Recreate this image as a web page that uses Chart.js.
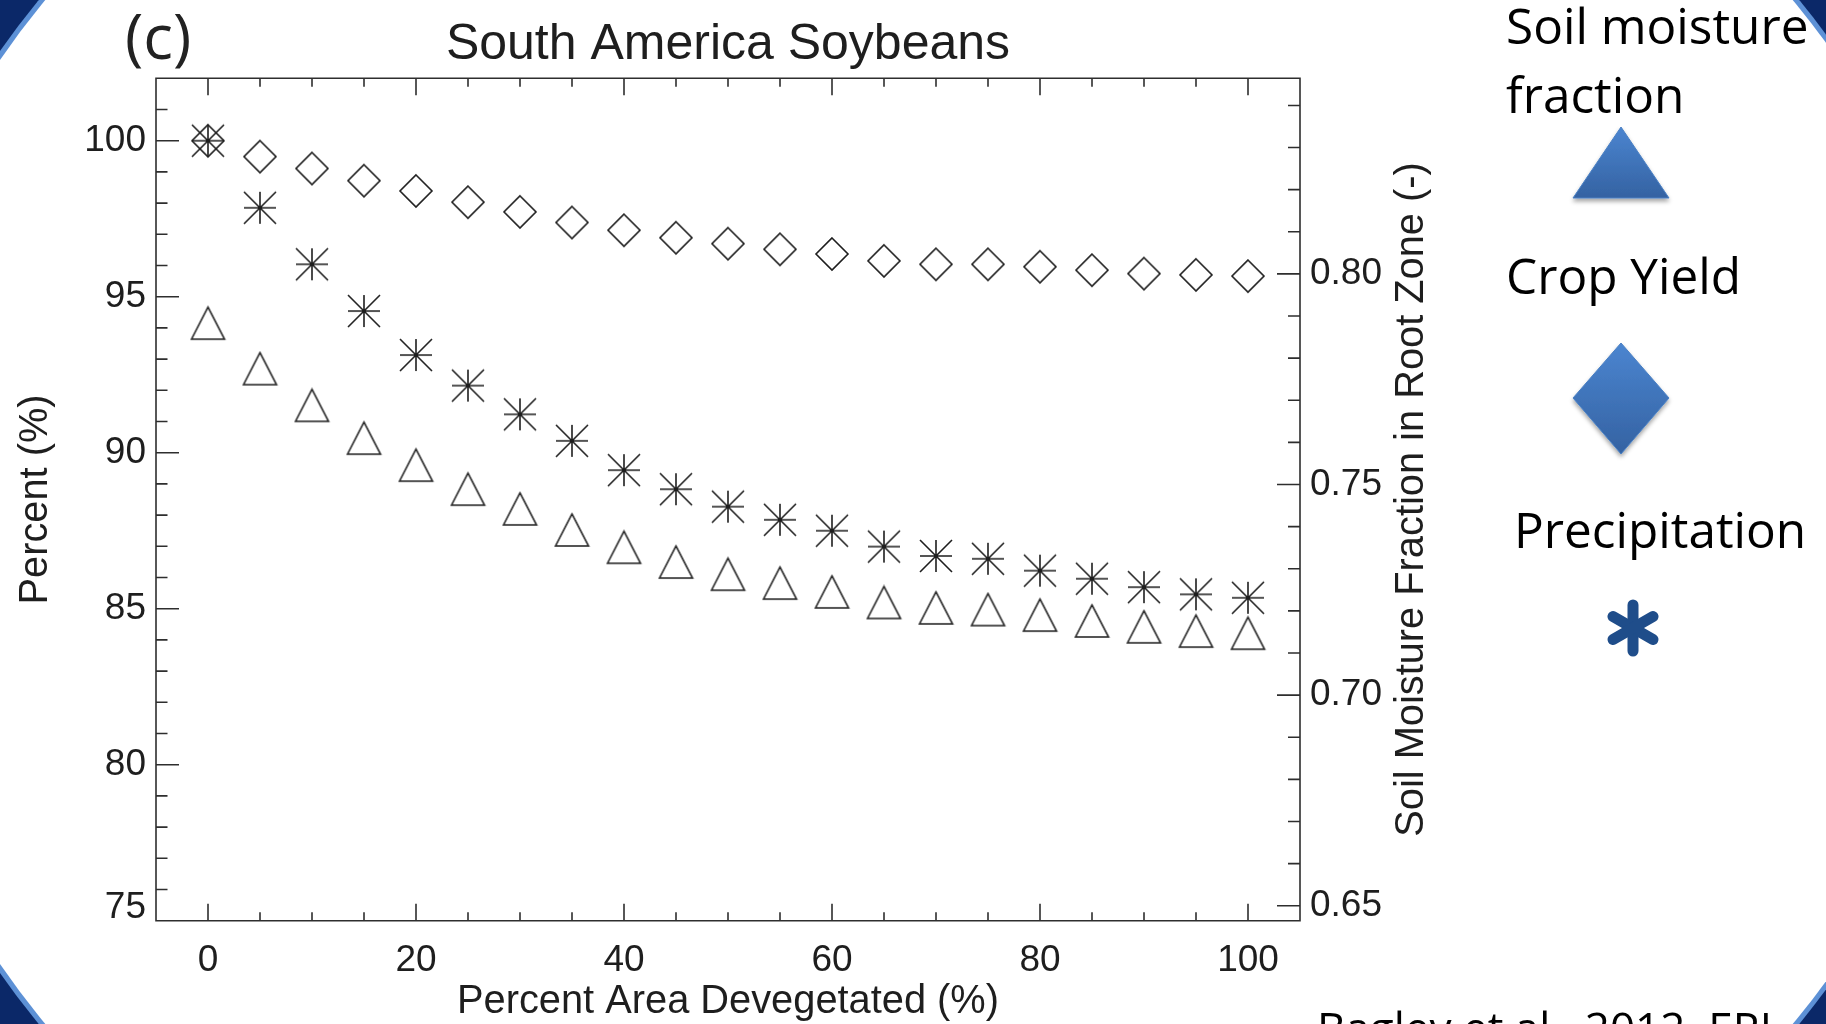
<!DOCTYPE html>
<html>
<head>
<meta charset="utf-8">
<title>South America Soybeans</title>
<script src="https://cdn.jsdelivr.net/npm/chart.js@4.4.1/dist/chart.umd.min.js"></script>
<style>
  html, body { margin: 0; padding: 0; }
  body {
    width: 1826px; height: 1024px; overflow: hidden; position: relative;
    background: #0b2868; font-family: 'Open Sans', sans-serif;
  }
  #slide {
    position: absolute; left: -140px; top: -288px; width: 2118px; height: 1600px;
    border-radius: 800px; background: #fff; box-shadow: 0 0 0 5px #5d91d6;
  }
  #chart-wrap { position: absolute; left: 0; top: 0; width: 1456px; height: 1024px; }
  .slide-text {
    position: absolute; white-space: nowrap; font-family: 'Open Sans', sans-serif;
    font-size: 49.5px; line-height: 49.5px; color: #000;
  }
  #panel-tag { left: 125px; top: 4px; font-size: 62px; line-height: 62px; font-weight: 500; color: #222; }
  #citation { left: 1317px; top: 1005px; font-size: 44px; line-height: 44px; }
  .legend-mark { position: absolute; overflow: visible; }
</style>
</head>
<body>
<div id="slide"></div>
<div class="slide-text" id="panel-tag">(c)</div>

<div id="chart-wrap"><canvas id="soy" width="1456" height="1024"></canvas></div>

<div class="slide-text" style="left:1506px; top:1px;">Soil moisture</div>
<div class="slide-text" style="left:1506px; top:70px;">fraction</div>
<svg class="legend-mark" style="left:1560px; top:115px;" width="125" height="100">
  <defs>
    <linearGradient id="shapeFill" x1="0" y1="0" x2="0" y2="1">
      <stop offset="0" stop-color="#4b85d0"/>
      <stop offset="1" stop-color="#3462a2"/>
    </linearGradient>
    <filter id="shade" x="-20%" y="-20%" width="140%" height="150%">
      <feDropShadow dx="0" dy="3" stdDeviation="2" flood-color="#000" flood-opacity="0.35"/>
    </filter>
  </defs>
  <polygon points="13,83 61,12 109,83" fill="url(#shapeFill)" stroke="#4a80c4" stroke-width="1" filter="url(#shade)"/>
</svg>

<div class="slide-text" style="left:1506px; top:251px;">Crop Yield</div>
<svg class="legend-mark" style="left:1560px; top:335px;" width="125" height="130">
  <defs>
    <linearGradient id="shapeFill2" x1="0" y1="0" x2="0" y2="1">
      <stop offset="0" stop-color="#4b85d0"/>
      <stop offset="1" stop-color="#3462a2"/>
    </linearGradient>
    <filter id="shade2" x="-20%" y="-20%" width="140%" height="150%">
      <feDropShadow dx="0" dy="3" stdDeviation="2" flood-color="#000" flood-opacity="0.35"/>
    </filter>
  </defs>
  <polygon points="61,8 109,63 61,119 13,63" fill="url(#shapeFill2)" stroke="#4a80c4" stroke-width="1" filter="url(#shade2)"/>
</svg>

<div class="slide-text" style="left:1514px; top:505px;">Precipitation</div>
<svg class="legend-mark" style="left:1603px; top:598px;" width="60" height="60">
  <g stroke="#1f4d8a" stroke-width="11" stroke-linecap="round">
    <line x1="30" y1="7" x2="30" y2="53"/>
    <line x1="10" y1="18.5" x2="50" y2="41.5"/>
    <line x1="10" y1="41.5" x2="50" y2="18.5"/>
  </g>
</svg>

<div class="slide-text" id="citation">Bagley et al., 2012, ERL</div>

<script>
  // percent of area devegetated (x)
  const devegetated = [0, 5, 10, 15, 20, 25, 30, 35, 40, 45, 50, 55, 60, 65, 70, 75, 80, 85, 90, 95, 100];

  // crop yield, % (diamonds, left axis)
  const cropYield = [100.0, 99.49, 99.11, 98.72, 98.39, 98.03, 97.72, 97.38, 97.13, 96.89, 96.70,
    96.52, 96.37, 96.15, 96.04, 96.04, 95.96, 95.85, 95.74, 95.70, 95.66];

  // precipitation, % (asterisks, left axis)
  const precipitation = [100.0, 97.85, 96.04, 94.54, 93.13, 92.15, 91.23, 90.38, 89.44, 88.83, 88.27,
    87.85, 87.50, 86.99, 86.69, 86.60, 86.22, 85.96, 85.69, 85.46, 85.35];

  // soil moisture fraction in root zone (triangles, right axis)
  const soilMoisture = [0.7883, 0.7775, 0.7688, 0.7610, 0.7546, 0.7489, 0.7442, 0.7392, 0.7351, 0.7316, 0.7287,
    0.7266, 0.7245, 0.7220, 0.7207, 0.7203, 0.7190, 0.7176, 0.7162, 0.7152, 0.7147];

  const xTickLabels = [0, 20, 40, 60, 80, 100];
  const percentTickLabels = [75, 80, 85, 90, 95, 100];
  const moistureTickLabels = ['0.65', '0.70', '0.75', '0.80'];
  const moistureTitle = 'Soil Moisture Fraction in Root Zone (-)';

  const inkColor = '#1e1e1e';
  const axisColor = '#2e2e2e';
  const fontFamily = "'Liberation Sans', Arial, Helvetica, sans-serif";

  function makeMarker(kind, w, h) {
    const c = document.createElement('canvas');
    c.width = w + 4;
    c.height = h + 4;
    const g = c.getContext('2d');
    g.strokeStyle = inkColor;
    g.lineWidth = 1.6;
    g.translate(c.width / 2, c.height / 2);
    const hw = w / 2;
    const hh = h / 2;
    g.beginPath();
    if (kind === 'triangle') {
      g.moveTo(-hw, hh);
      g.lineTo(0, -hh);
      g.lineTo(hw, hh);
      g.closePath();
    } else if (kind === 'diamond') {
      g.moveTo(0, -hh);
      g.lineTo(hw, 0);
      g.lineTo(0, hh);
      g.lineTo(-hw, 0);
      g.closePath();
    } else {
      g.moveTo(-hw, 0); g.lineTo(hw, 0);
      g.moveTo(0, -hh); g.lineTo(0, hh);
      g.moveTo(-hw, -hh); g.lineTo(hw, hh);
      g.moveTo(-hw, hh); g.lineTo(hw, -hh);
    }
    g.stroke();
    return c;
  }

  const diamondMark = makeMarker('diamond', 32, 32);
  const starMark = makeMarker('star', 32, 32);
  const triangleMark = makeMarker('triangle', 33, 32);

  function points(ys) {
    return devegetated.map((x, i) => ({ x: x, y: ys[i] }));
  }

  // IDL-style frame: box plus inward ticks on every side
  const frameTicks = {
    id: 'frameTicks',
    beforeDatasetsDraw(chart) {
      const { ctx, chartArea, scales } = chart;
      const { left, right, top, bottom } = chartArea;
      ctx.save();
      ctx.strokeStyle = axisColor;
      ctx.lineWidth = 1.6;
      ctx.beginPath();
      scales.x.ticks.forEach((t) => {
        const px = scales.x.getPixelForValue(t.value);
        const len = xTickLabels.includes(t.value) ? 17 : 8.5;
        ctx.moveTo(px, bottom);
        ctx.lineTo(px, bottom - len);
        ctx.moveTo(px, top);
        ctx.lineTo(px, top + len);
      });
      scales.y.ticks.forEach((t) => {
        const py = scales.y.getPixelForValue(t.value);
        const len = percentTickLabels.includes(t.value) ? 23 : 11.5;
        ctx.moveTo(left, py);
        ctx.lineTo(left + len, py);
      });
      scales.y2.ticks.forEach((t) => {
        const py = scales.y2.getPixelForValue(t.value);
        const len = moistureTickLabels.includes(t.value.toFixed(2)) ? 23 : 12;
        ctx.moveTo(right, py);
        ctx.lineTo(right - len, py);
      });
      ctx.rect(left, top, right - left, bottom - top);
      ctx.stroke();
      ctx.restore();
    },
    // right axis title reads bottom-to-top like the left one
    afterDraw(chart) {
      const { ctx, chartArea, scales } = chart;
      const y2 = scales.y2;
      ctx.save();
      ctx.translate(y2.right - 43.5, (chartArea.top + chartArea.bottom) / 2);
      ctx.rotate(-Math.PI / 2);
      ctx.fillStyle = inkColor;
      ctx.font = `39.8px ${fontFamily}`;
      ctx.textAlign = 'center';
      ctx.textBaseline = 'middle';
      ctx.fillText(moistureTitle, 0, 0);
      ctx.restore();
    }
  };

  const tickFont = { family: fontFamily, size: 37, lineHeight: 1.2 };
  const titleFont = { family: fontFamily, size: 39.8, lineHeight: 1 };

  new Chart(document.getElementById('soy'), {
    type: 'scatter',
    data: {
      datasets: [
        {
          label: 'Crop Yield',
          data: points(cropYield),
          yAxisID: 'y',
          pointStyle: diamondMark,
          pointRadius: 16
        },
        {
          label: 'Precipitation',
          data: points(precipitation),
          yAxisID: 'y',
          pointStyle: starMark,
          pointRadius: 16
        },
        {
          label: 'Soil moisture fraction',
          data: points(soilMoisture),
          yAxisID: 'y2',
          pointStyle: triangleMark,
          pointRadius: 16
        }
      ]
    },
    options: {
      responsive: false,
      animation: false,
      layout: { padding: 0 },
      plugins: {
        legend: { display: false },
        tooltip: { enabled: false },
        title: {
          display: true,
          text: 'South America Soybeans',
          color: inkColor,
          font: { family: fontFamily, size: 50, weight: 'normal', lineHeight: 1 },
          padding: { top: 20.5, bottom: 7.8 }
        }
      },
      scales: {
        x: {
          type: 'linear',
          position: 'bottom',
          min: -5,
          max: 105,
          grid: { display: false, drawTicks: false },
          border: { display: false },
          afterBuildTicks: (scale) => {
            scale.ticks = devegetated.map((v) => ({ value: v }));
          },
          afterFit: (scale) => { scale.height = 103.3; },
          ticks: {
            autoSkip: false,
            maxRotation: 0,
            padding: 17.5,
            color: inkColor,
            font: tickFont,
            callback: (v) => (xTickLabels.includes(v) ? String(v) : '')
          },
          title: {
            display: true,
            text: 'Percent Area Devegetated (%)',
            color: inkColor,
            font: titleFont,
            padding: { top: 0, bottom: 2 }
          }
        },
        y: {
          type: 'linear',
          position: 'left',
          min: 75,
          max: 102,
          grid: { display: false, drawTicks: false },
          border: { display: false },
          afterBuildTicks: (scale) => {
            const list = [];
            for (let v = 75; v <= 101; v++) list.push({ value: v });
            scale.ticks = list;
          },
          afterFit: (scale) => { scale.width = 156; },
          ticks: {
            autoSkip: false,
            padding: 10,
            color: inkColor,
            font: (ctx) => ({
              family: fontFamily,
              size: 37,
              lineHeight: ctx.tick && ctx.tick.value === 75 ? 0.7135 : 1.2
            }),
            callback: (v) => {
              if (!percentTickLabels.includes(v)) return '';
              return v === 75 ? ['75', ''] : String(v);
            }
          },
          title: {
            display: true,
            text: 'Percent (%)',
            color: inkColor,
            font: titleFont,
            padding: { top: 15.75, bottom: 0 }
          }
        },
        y2: {
          type: 'linear',
          position: 'right',
          min: 0.64644,
          max: 0.84644,
          grid: { display: false, drawTicks: false },
          border: { display: false },
          afterBuildTicks: (scale) => {
            const list = [];
            for (let k = 65; k <= 84; k++) list.push({ value: k / 100 });
            scale.ticks = list;
          },
          afterFit: (scale) => { scale.width = 156; },
          ticks: {
            autoSkip: false,
            padding: 10,
            color: inkColor,
            font: tickFont,
            callback: (v) => {
              const s = v.toFixed(2);
              return moistureTickLabels.includes(s) ? s : '';
            }
          },
          title: { display: false }
        }
      }
    },
    plugins: [frameTicks]
  });
</script>
</body>
</html>
